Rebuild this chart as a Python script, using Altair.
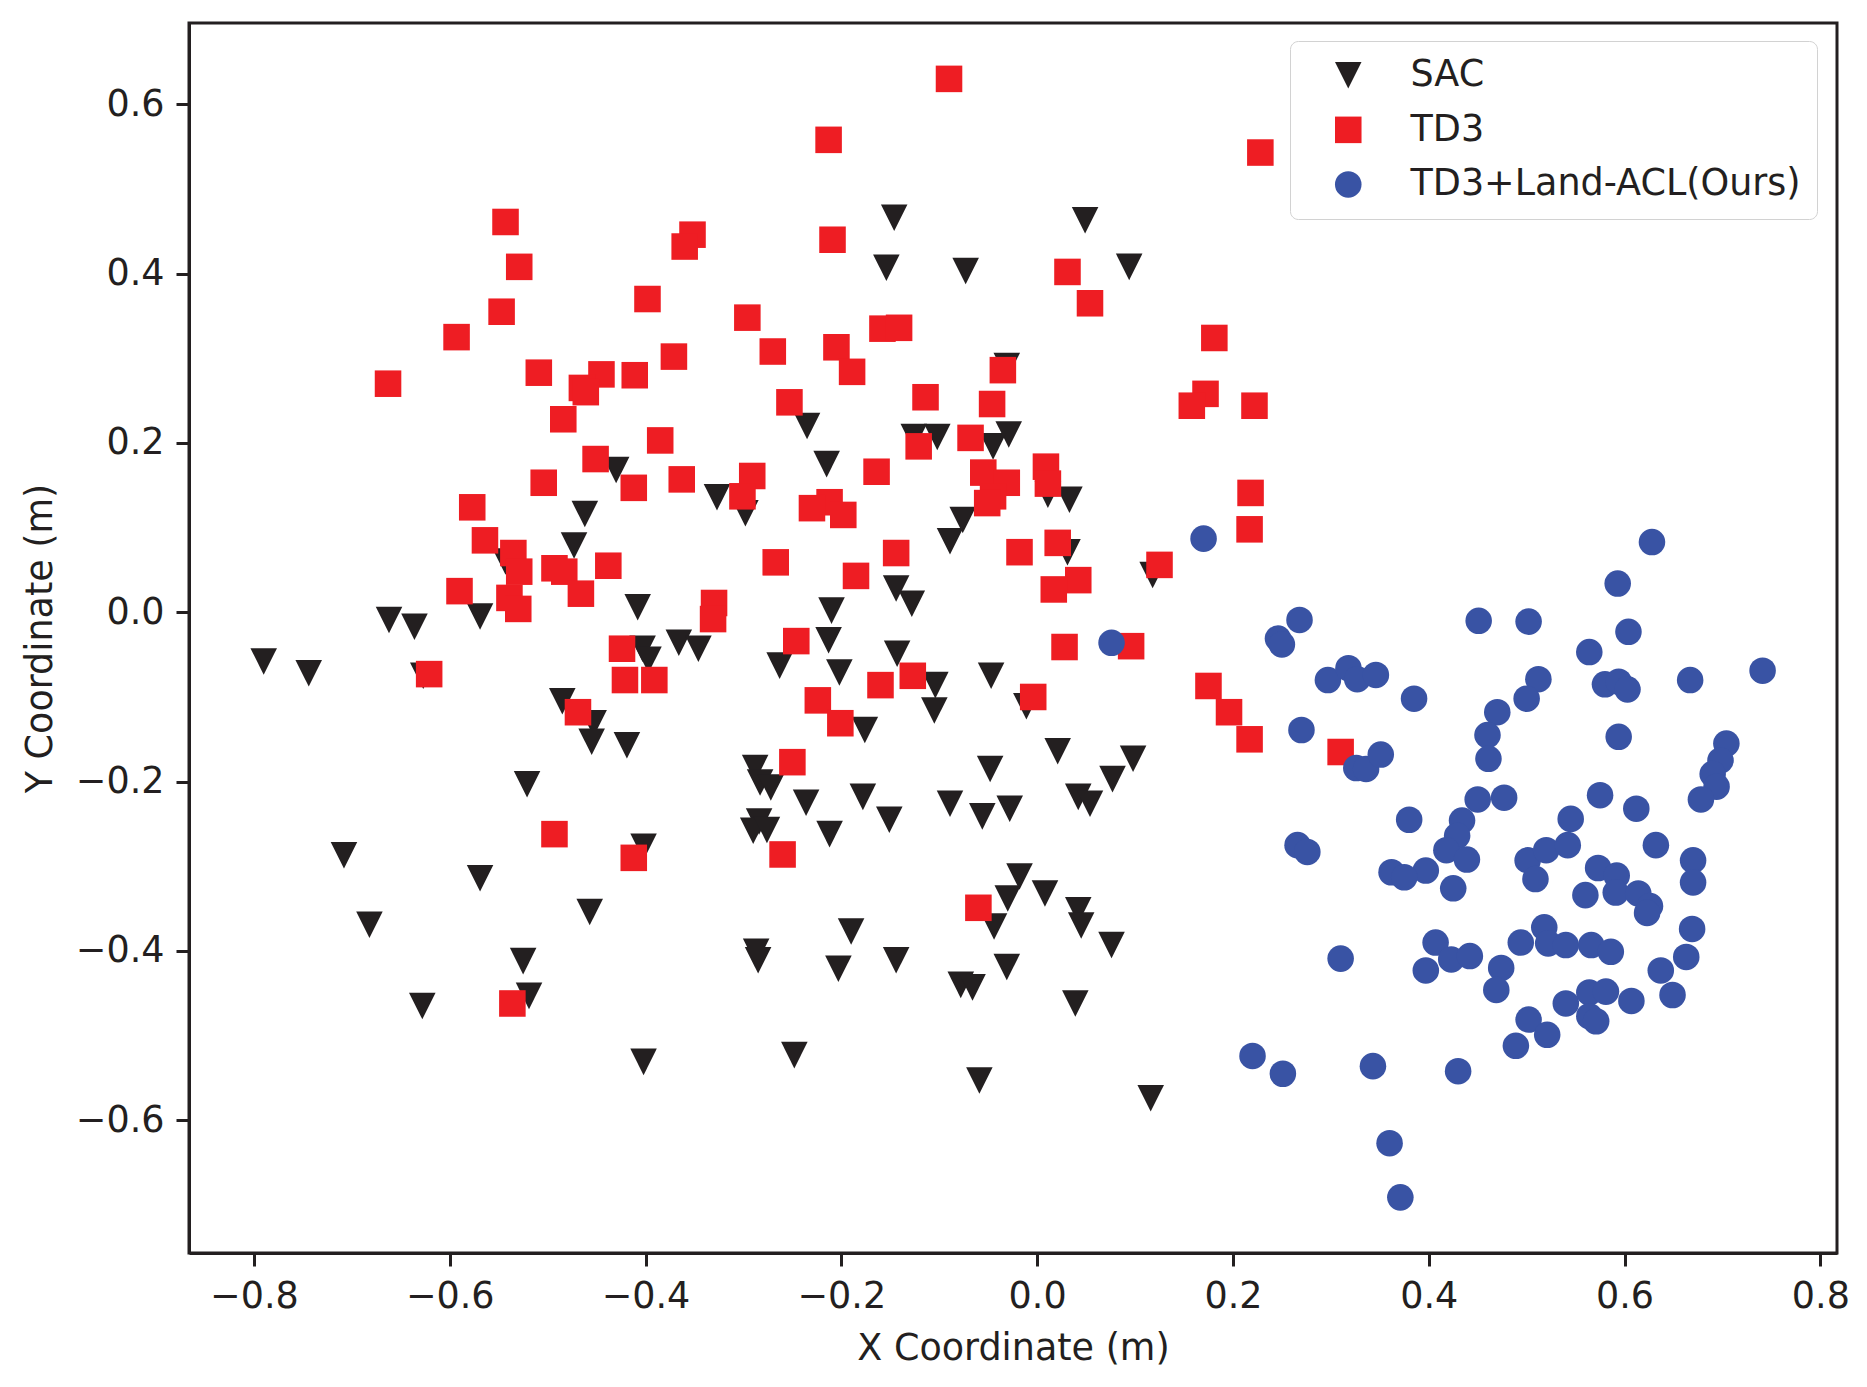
import altair as alt
import pandas as pd

SERIES = ["SAC", "TD3", "TD3+Land-ACL(Ours)"]
COLORS = ["#231F20", "#EE1D23", "#3953A4"]
TRI_DOWN = "M-1,-1L1,-1L0,1Z"

X_TICKS = [-0.8, -0.6, -0.4, -0.2, 0.0, 0.2, 0.4, 0.6, 0.8]
Y_TICKS = [-0.6, -0.4, -0.2, 0.0, 0.2, 0.4, 0.6]

SAC_POINTS = [
    (-0.146, 0.466), (-0.154, 0.407), (-0.073, 0.403), (0.049, 0.463), (0.094, 0.408),
    (-0.031, 0.291), (-0.235, 0.220), (-0.126, 0.207), (-0.102, 0.207), (-0.029, 0.210),
    (-0.045, 0.196), (-0.215, 0.175), (-0.430, 0.168), (-0.462, 0.116), (-0.473, 0.079),
    (-0.543, 0.060), (-0.327, 0.136), (-0.298, 0.117), (-0.076, 0.109), (-0.089, 0.084),
    (0.011, 0.139), (0.033, 0.133), (0.031, 0.071), (0.118, 0.044), (-0.144, 0.028),
    (-0.128, 0.010), (-0.408, 0.006), (-0.210, 0.002), (-0.569, -0.005), (-0.662, -0.009),
    (-0.636, -0.017), (-0.790, -0.058), (-0.744, -0.072), (-0.627, -0.075), (-0.403, -0.043),
    (-0.397, -0.056), (-0.366, -0.036), (-0.346, -0.043), (-0.263, -0.063), (-0.213, -0.033),
    (-0.202, -0.071), (-0.143, -0.049), (-0.104, -0.086), (-0.105, -0.116), (-0.047, -0.075),
    (-0.011, -0.111), (-0.485, -0.105), (-0.453, -0.131), (-0.455, -0.153), (-0.521, -0.203),
    (-0.419, -0.157), (-0.176, -0.139), (-0.288, -0.184), (-0.283, -0.201), (-0.272, -0.207),
    (-0.236, -0.225), (-0.178, -0.218), (-0.151, -0.245), (-0.048, -0.185), (-0.089, -0.226),
    (-0.056, -0.241), (-0.028, -0.232), (-0.284, -0.247), (-0.290, -0.258), (-0.276, -0.257),
    (-0.212, -0.262), (-0.402, -0.277), (0.021, -0.164), (0.098, -0.173), (0.077, -0.197),
    (0.042, -0.218), (0.054, -0.226), (-0.708, -0.287), (-0.569, -0.314), (-0.457, -0.354),
    (-0.682, -0.369), (-0.525, -0.412), (-0.519, -0.453), (-0.628, -0.465), (-0.018, -0.312),
    (-0.030, -0.338), (-0.044, -0.371), (-0.190, -0.377), (-0.287, -0.401), (-0.285, -0.411),
    (-0.203, -0.421), (-0.144, -0.411), (-0.078, -0.440), (-0.066, -0.443), (-0.031, -0.419),
    (-0.402, -0.531), (-0.248, -0.523), (-0.059, -0.553), (0.008, -0.332), (0.042, -0.352),
    (0.045, -0.370), (0.076, -0.393), (0.039, -0.462), (0.116, -0.574),
]

TD3_POINTS = [
    (-0.090, 0.630), (-0.213, 0.558), (0.228, 0.543), (-0.543, 0.461), (-0.352, 0.446),
    (-0.360, 0.432), (-0.209, 0.440), (-0.529, 0.408), (0.031, 0.402), (-0.398, 0.370),
    (0.054, 0.365), (-0.547, 0.355), (-0.296, 0.348), (-0.158, 0.335), (-0.141, 0.336),
    (-0.593, 0.325), (0.181, 0.324), (-0.205, 0.313), (-0.270, 0.308), (-0.371, 0.302),
    (-0.035, 0.286), (-0.189, 0.284), (-0.509, 0.283), (-0.411, 0.280), (-0.445, 0.281),
    (-0.663, 0.270), (-0.465, 0.265), (-0.461, 0.260), (0.172, 0.258), (-0.114, 0.254),
    (-0.253, 0.248), (-0.046, 0.246), (0.158, 0.244), (0.222, 0.244), (-0.484, 0.228),
    (-0.068, 0.206), (-0.385, 0.203), (-0.121, 0.196), (-0.451, 0.181), (0.009, 0.172),
    (-0.164, 0.166), (-0.055, 0.165), (-0.291, 0.161), (-0.363, 0.157), (-0.504, 0.153),
    (-0.031, 0.153), (0.011, 0.152), (-0.412, 0.147), (0.218, 0.141), (-0.301, 0.137),
    (-0.045, 0.137), (-0.212, 0.130), (-0.051, 0.129), (-0.577, 0.124), (-0.230, 0.123),
    (-0.198, 0.115), (0.217, 0.098), (-0.564, 0.085), (0.021, 0.082), (-0.018, 0.071),
    (-0.144, 0.070), (-0.535, 0.070), (-0.267, 0.059), (0.125, 0.056), (-0.438, 0.055),
    (-0.493, 0.052), (-0.529, 0.048), (-0.483, 0.048), (-0.185, 0.043), (0.042, 0.038),
    (0.017, 0.027), (-0.590, 0.025), (-0.466, 0.022), (-0.539, 0.017), (-0.330, 0.011),
    (-0.530, 0.004), (-0.331, -0.008), (-0.246, -0.034), (-0.424, -0.043), (0.028, -0.041),
    (0.096, -0.040), (-0.621, -0.073), (-0.127, -0.075), (-0.421, -0.080), (-0.391, -0.080),
    (-0.160, -0.086), (0.175, -0.087), (-0.004, -0.100), (-0.224, -0.104), (-0.469, -0.118),
    (0.196, -0.118), (-0.201, -0.131), (0.217, -0.150), (0.310, -0.165), (-0.250, -0.177),
    (-0.493, -0.262), (-0.260, -0.286), (-0.412, -0.290), (-0.060, -0.349), (-0.536, -0.462),
]

OURS_POINTS = [
    (0.170, 0.087), (0.628, 0.083), (0.593, 0.034), (0.076, -0.036), (0.268, -0.009),
    (0.246, -0.031), (0.250, -0.038), (0.451, -0.010), (0.502, -0.011), (0.604, -0.023),
    (0.564, -0.047), (0.741, -0.069), (0.667, -0.080), (0.580, -0.085), (0.594, -0.082),
    (0.603, -0.091), (0.512, -0.079), (0.500, -0.102), (0.297, -0.080), (0.318, -0.066),
    (0.327, -0.079), (0.346, -0.074), (0.385, -0.102), (0.270, -0.139), (0.326, -0.184),
    (0.336, -0.185), (0.351, -0.168), (0.470, -0.118), (0.460, -0.145), (0.461, -0.173),
    (0.594, -0.147), (0.704, -0.155), (0.698, -0.175), (0.690, -0.191), (0.694, -0.206),
    (0.678, -0.221), (0.575, -0.216), (0.612, -0.232), (0.450, -0.221), (0.477, -0.219),
    (0.380, -0.245), (0.434, -0.246), (0.429, -0.264), (0.545, -0.244), (0.632, -0.275),
    (0.266, -0.275), (0.276, -0.283), (0.418, -0.281), (0.439, -0.292), (0.397, -0.305),
    (0.425, -0.326), (0.362, -0.307), (0.375, -0.313), (0.501, -0.293), (0.509, -0.315),
    (0.520, -0.281), (0.542, -0.275), (0.670, -0.293), (0.670, -0.319), (0.573, -0.302),
    (0.592, -0.311), (0.591, -0.331), (0.614, -0.332), (0.626, -0.347), (0.623, -0.355),
    (0.560, -0.334), (0.669, -0.374), (0.663, -0.407), (0.637, -0.423), (0.649, -0.452),
    (0.607, -0.459), (0.407, -0.390), (0.423, -0.410), (0.442, -0.406), (0.397, -0.423),
    (0.474, -0.420), (0.469, -0.446), (0.494, -0.390), (0.518, -0.372), (0.522, -0.391),
    (0.540, -0.393), (0.566, -0.393), (0.586, -0.401), (0.540, -0.462), (0.564, -0.449),
    (0.581, -0.448), (0.564, -0.477), (0.571, -0.483), (0.502, -0.481), (0.521, -0.499),
    (0.489, -0.512), (0.430, -0.542), (0.310, -0.409), (0.220, -0.524), (0.251, -0.545),
    (0.343, -0.536), (0.360, -0.627), (0.371, -0.691),
]

rows = []
idx = 0
for name, pts in zip(SERIES, [SAC_POINTS, TD3_POINTS, OURS_POINTS]):
    for x, y in pts:
        rows.append({"series": name, "x": x, "y": y, "idx": idx})
        idx += 1
df = pd.DataFrame(rows)

FONT = "DejaVu Sans"
DARK = "#231F20"
FS = 36.5
label_expr = "replace(format(datum.value, '.1f'), '-', '\u2212')"

legend_kw = dict(
    orient="none", legendX=1101, legendY=18, padding=16, symbolOffset=24,
    labelOffset=44, rowPadding=17.6, labelFont=FONT, labelFontSize=FS,
    labelColor=DARK, labelLimit=800, strokeColor="#D2D2D2", fillColor="white",
    cornerRadius=8, symbolSize=705, symbolStrokeWidth=0,
)

chart = alt.Chart(df).mark_point(filled=True, opacity=1, size=705, strokeWidth=0).encode(
    x=alt.X("x:Q",
            scale=alt.Scale(domain=[-0.8663, 0.817], nice=False, zero=False),
            axis=alt.Axis(values=X_TICKS, labelExpr=label_expr, title="X Coordinate (m)")),
    y=alt.Y("y:Q",
            scale=alt.Scale(domain=[-0.7567, 0.696], nice=False, zero=False),
            axis=alt.Axis(values=Y_TICKS, labelExpr=label_expr, title="Y Coordinate (m)")),
    color=alt.Color("series:N", scale=alt.Scale(domain=SERIES, range=COLORS),
                    legend=alt.Legend(**legend_kw), title=None),
    shape=alt.Shape("series:N", scale=alt.Scale(domain=SERIES, range=[TRI_DOWN, "square", "circle"]),
                    legend=alt.Legend(**legend_kw), title=None),
    order=alt.Order("idx:Q"),
).properties(
    width=1648, height=1230,
    autosize=alt.AutoSizeParams(type="none"),
    padding={"left": 181, "top": 15, "right": 20, "bottom": 120},
).configure_view(
    stroke=DARK, strokeWidth=3,
).configure_axis(
    grid=False, domainColor=DARK, domainWidth=3, tickColor=DARK, tickWidth=3, tickSize=13,
    labelFont=FONT, labelFontSize=FS, labelColor=DARK, labelPadding=12,
    titleFont=FONT, titleFontSize=FS, titleFontWeight="normal", titleColor=DARK,
    titlePadding=16,
).configure_legend(
    **legend_kw
)

chart.save("out.html", embed_options={"renderer": "svg", "actions": False})
